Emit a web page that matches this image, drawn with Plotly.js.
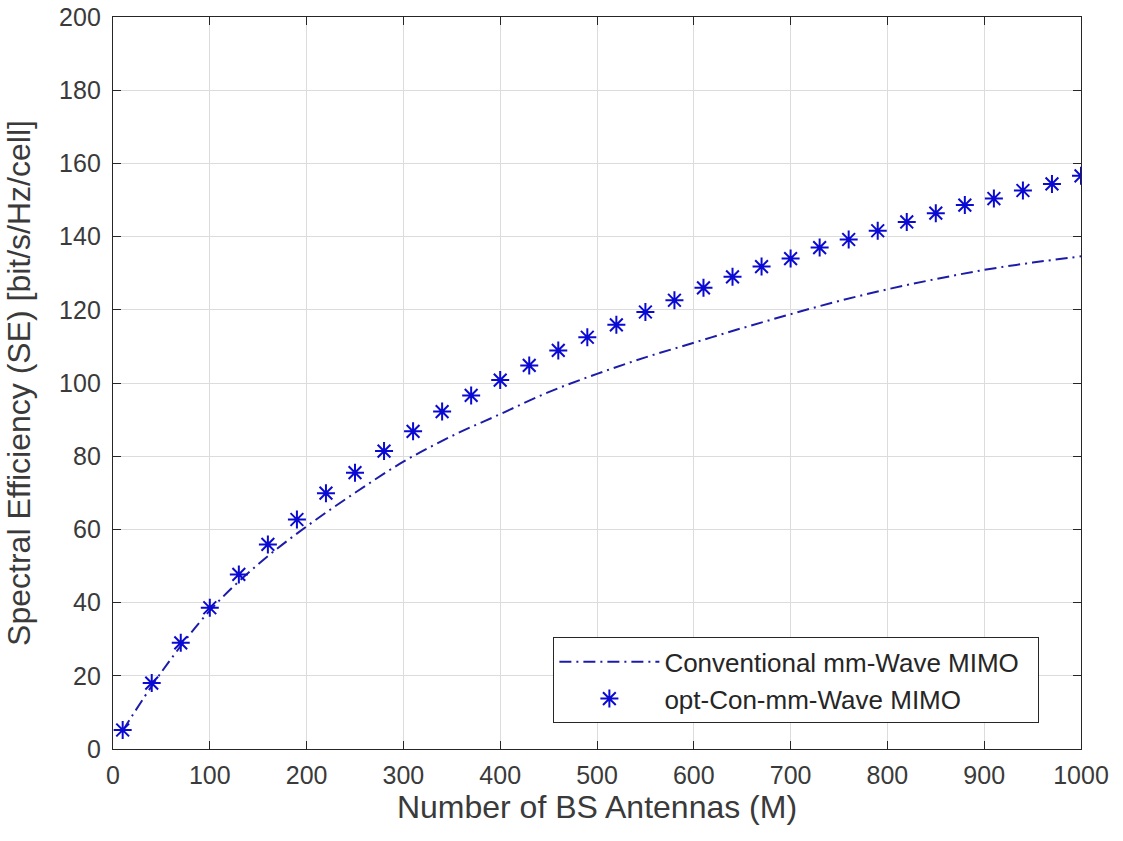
<!DOCTYPE html>
<html>
<head>
<meta charset="utf-8">
<script src="https://cdn.plot.ly/plotly-3.0.1.min.js"></script>
<style>html,body{margin:0;padding:0;background:#fff;}#chart{width:1123px;height:841px;}</style>
</head>
<body>
<div id="chart"></div>
<script>
// Conventional mm-Wave MIMO (dash-dot line)
const convX = [10, 50, 100, 150, 200, 250, 300, 350, 400, 450, 500, 550, 600, 650, 700, 750, 800, 850, 900, 950, 1000];
const convY = [5, 21, 37.8, 50.5, 60.8, 70, 78.5, 85.5, 91.5, 97.5, 102.5, 107, 111, 115, 118.8, 122.4, 125.6, 128.4, 130.9, 132.9, 134.6];

// opt-Con-mm-Wave MIMO (asterisk markers)
const optX = [10, 40, 70, 100, 130, 160, 190, 220, 250, 280, 310, 340, 370, 400, 430, 460, 490, 520, 550, 580, 610, 640, 670, 700, 730, 760, 790, 820, 850, 880, 910, 940, 970, 1000];
const optY = [5.2, 18, 29, 38.6, 47.7, 55.9, 62.7, 69.9, 75.5, 81.4, 86.8, 92.2, 96.6, 100.8, 104.8, 108.9, 112.5, 115.9, 119.4, 122.6, 126, 129, 131.8, 134, 137, 139.2, 141.6, 144, 146.4, 148.6, 150.4, 152.6, 154.4, 156.6];

const xTicks = [0, 100, 200, 300, 400, 500, 600, 700, 800, 900, 1000];
const yTicks = [0, 20, 40, 60, 80, 100, 120, 140, 160, 180, 200];

const seriesNames = ['Conventional mm-Wave MIMO', 'opt-Con-mm-Wave MIMO'];
const xLabel = 'Number of BS Antennas (M)';
const yLabel = 'Spectral Efficiency (SE) [bit/s/Hz/cell]';

const font = 'Arial, "Liberation Sans", Helvetica, sans-serif';
const pad = '\u00a0\u00a0';

const traces = [
  {
    x: convX, y: convY, name: seriesNames[0] + pad, type: 'scatter', mode: 'lines',
    line: {color: '#1c1ca8', width: 2, dash: '12px,5px,2px,5px', shape: 'spline'}
  },
  {
    x: optX, y: optY, name: seriesNames[1] + pad, type: 'scatter', mode: 'markers',
    marker: {symbol: 'asterisk-open', size: 15, color: '#0a0ad2', line: {color: '#0a0ad2', width: 2}}
  }
];

const axisCommon = {
  showline: true, mirror: 'ticks', linecolor: '#262626', linewidth: 1.2,
  ticks: 'inside', ticklen: 8, tickwidth: 1, tickcolor: '#262626',
  showgrid: true, gridcolor: '#dcdcdc', gridwidth: 1,
  zeroline: false,
  tickfont: {family: font, size: 25, color: '#3a3a3a'}
};

const layout = {
  width: 1123, height: 841,
  paper_bgcolor: '#ffffff', plot_bgcolor: '#ffffff',
  margin: {l: 113, r: 42, t: 17, b: 92},
  showlegend: true,
  xaxis: Object.assign({}, axisCommon, {
    range: [0, 1000], tickvals: xTicks, ticktext: xTicks.map(String),
    ticklabelstandoff: 4,
    title: {text: xLabel, font: {family: font, size: 32, color: '#3a3a3a'}, standoff: 2}
  }),
  yaxis: Object.assign({}, axisCommon, {
    range: [0, 200], tickvals: yTicks, ticktext: yTicks.map(String),
    ticklabelstandoff: 6,
    title: {text: yLabel, font: {family: font, size: 32, color: '#3a3a3a'}, standoff: 18}
  }),
  legend: {
    x: 0.957, y: 0.035, xanchor: 'right', yanchor: 'bottom',
    bgcolor: '#ffffff', bordercolor: '#262626', borderwidth: 1,
    font: {family: font, size: 26, color: '#262626'},
    itemwidth: 100, tracegroupgap: 0
  }
};

Plotly.newPlot('chart', traces, layout, {displayModeBar: false, staticPlot: true});
</script>
</body>
</html>
